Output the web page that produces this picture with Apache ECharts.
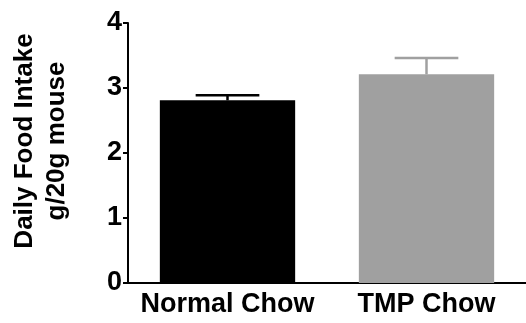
<!DOCTYPE html>
<html>
<head>
<meta charset="utf-8">
<script src="https://cdn.jsdelivr.net/npm/echarts@6/dist/echarts.min.js"></script>
<style>
  html, body { margin: 0; padding: 0; background: #fff; }
  #chart { width: 526px; height: 323px; }
</style>
</head>
<body>
<div id="chart"></div>
<script>
var categories = ['Normal Chow', 'TMP Chow'];
var means = [2.81, 3.21];
var errors = [0.08, 0.25];
var barColors = ['#000000', '#a0a0a0'];
var yTicks = [0, 1, 2, 3, 4];

var FONT = 'Liberation Sans';

var myChart = echarts.init(document.getElementById('chart'));
var option = {
    animation: false,
    grid: {
        left: 128,
        right: 0,
        top: 23,
        bottom: 40
    },
    xAxis: {
        type: 'category',
        data: categories,
        axisLine: { lineStyle: { color: '#000', width: 2 } },
        axisTick: { alignWithLabel: true, length: 5, lineStyle: { color: '#000', width: 2 } },
        axisLabel: {
            interval: 0,
            hideOverlap: false,
            color: '#000',
            fontFamily: FONT,
            fontWeight: 'bold',
            fontSize: 27,
            margin: 8
        }
    },
    yAxis: {
        type: 'value',
        min: yTicks[0],
        max: yTicks[yTicks.length - 1],
        interval: 1,
        splitLine: { show: false },
        axisLine: { show: true, lineStyle: { color: '#000', width: 2 } },
        axisTick: { show: true, length: 5, lineStyle: { color: '#000', width: 2 } },
        axisLabel: {
            color: '#000',
            fontFamily: FONT,
            fontWeight: 'bold',
            fontSize: 27,
            margin: 6
        }
    },
    graphic: [{
        type: 'text',
        x: 41,
        y: 141,
        rotation: Math.PI / 2,
        style: {
            text: 'Daily Food Intake\ng/20g mouse',
            fontFamily: FONT,
            fontWeight: 'bold',
            fontSize: 26,
            lineHeight: 32,
            fill: '#000',
            align: 'center',
            verticalAlign: 'middle'
        }
    }],
    series: [
        {
            type: 'bar',
            barWidth: '68%',
            data: means.map(function (v, i) {
                return { value: v, itemStyle: { color: barColors[i] } };
            })
        },
        {
            type: 'custom',
            data: means.map(function (v, i) { return [i, v, v + errors[i]]; }),
            renderItem: function (params, api) {
                var i = api.value(0);
                var base = api.coord([i, api.value(1)]);
                var top = api.coord([i, api.value(2)]);
                var half = api.size([1, 0])[0] * 0.16;
                var col = barColors[params.dataIndex];
                var st = { stroke: col, lineWidth: 2.5 };
                return {
                    type: 'group',
                    children: [
                        { type: 'line', shape: { x1: base[0], y1: base[1], x2: top[0], y2: top[1] }, style: st },
                        { type: 'line', shape: { x1: top[0] - half, y1: top[1], x2: top[0] + half, y2: top[1] }, style: st }
                    ]
                };
            }
        }
    ]
};
myChart.setOption(option);
window.addEventListener('resize', function () {
    myChart.resize();
});
</script>
</body>
</html>
